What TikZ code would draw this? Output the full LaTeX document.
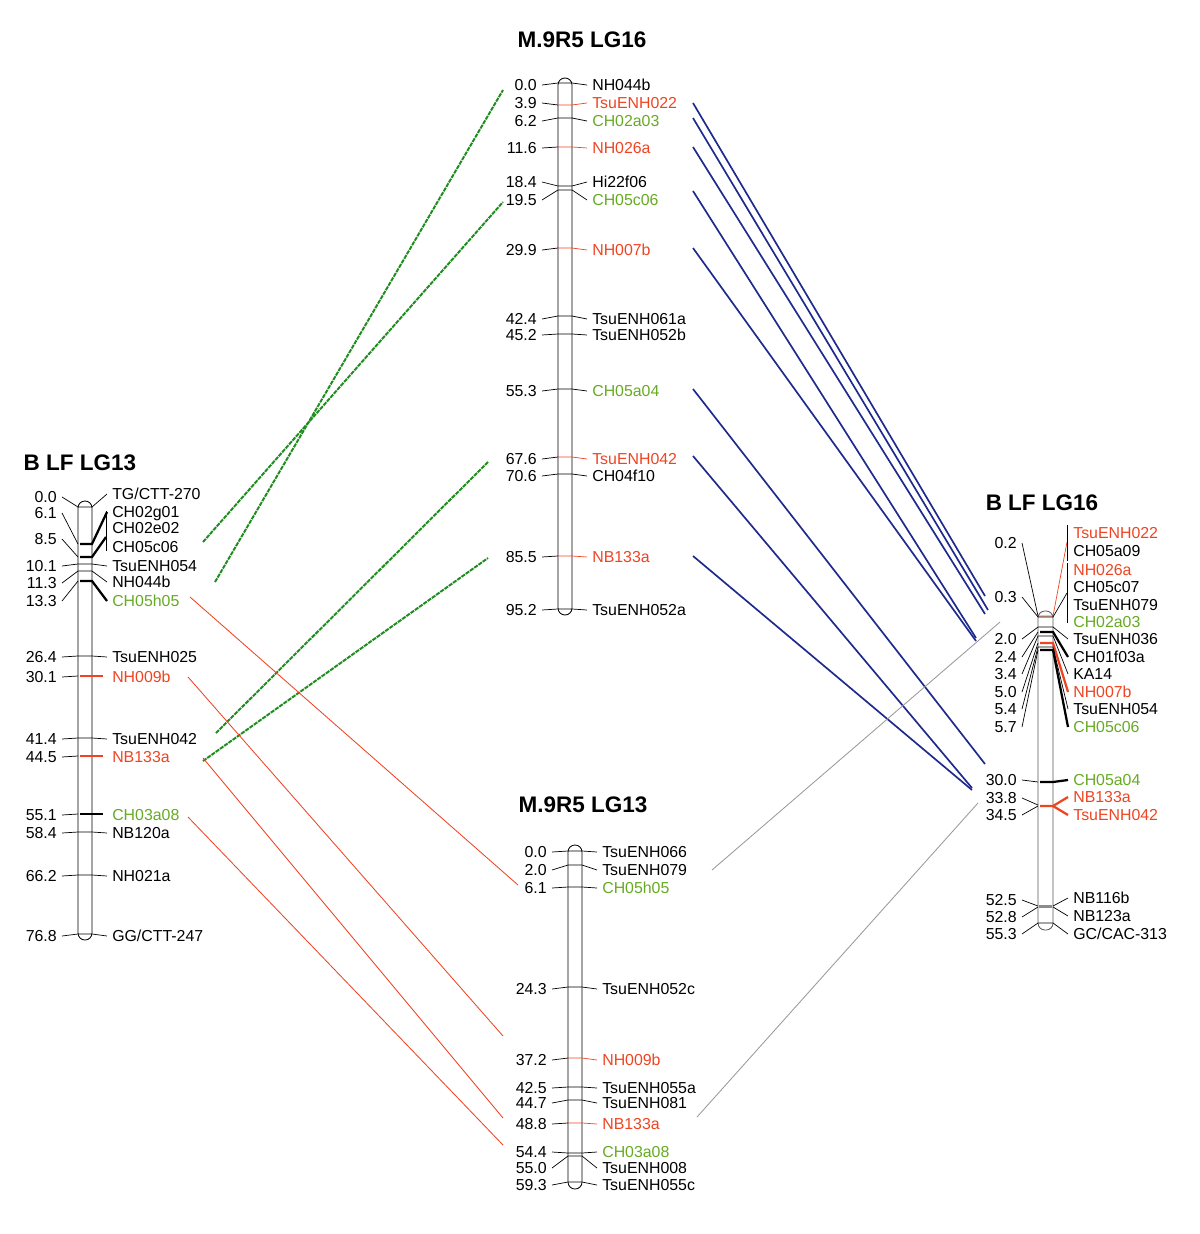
\documentclass[tikz,border=0pt]{standalone}
\usepackage{fontspec}
\setmainfont{Liberation Sans}
\usepackage{tikz}
\usetikzlibrary{positioning}
\definecolor{mRed}{HTML}{EE4422}
\definecolor{mGreen}{HTML}{66AA22}
\definecolor{mLink}{HTML}{1E8C1E}
\definecolor{mBlue}{HTML}{1E2A8C}
\definecolor{mGray}{HTML}{999999}

\begin{document}
\begin{tikzpicture}[x=0.025cm, y=-0.025cm,
  num/.style={font=\fontsize{11.3}{13}\selectfont, anchor=east, inner sep=3.5pt, text height=7.9pt, text depth=0pt},
  lbl/.style={font=\fontsize{11.3}{13}\selectfont, anchor=west, inner sep=3.5pt, text height=7.9pt, text depth=0pt},
  title/.style={font=\fontsize{16}{19}\selectfont\bfseries},
  chrom/.style={draw, line width=0.6pt, rounded corners=4.9pt},
  heavy/.style={line width=1.6pt},
  glink/.style={mLink, line width=1.4pt, dash pattern=on 3pt off 0.7pt},
  rlink/.style={mRed, line width=0.6pt},
  blink/.style={mBlue, line width=1.2pt},
  ylink/.style={mGray, line width=0.6pt},
  every path/.style={line width=0.5pt},
]
  \useasboundingbox (0,0) rectangle (1200,1234);

  % B LF LG13
  \node[title] (tA) at (80,463) {B LF LG13};
  \draw[chrom] (78,501) rectangle (92,940);
  \node[num] (a1) at (62,497) {0.0};
  \node[lbl] (a1n) at (107,494) {TG/CTT-270};
  \draw (a1.east) -- (78,507) -- (92,507) -- (a1n.west);
  \node[num] (a2) at (62,513) {6.1};
  \node[lbl] (a2n) at (107,512) {CH02g01};
  \node[lbl] (a3n) at (107,528) {CH02e02};
  \node[num] (a4) at (62,539) {8.5};
  \node[lbl] (a4n) at (107,547) {CH05c06};
  \draw (a2.east) -- (78,544);
  \draw (a4.east) -- (78,557);
  \draw[heavy] (80,544) -- (92,544) -- (a2n.west);
  \draw[heavy] (80,557) -- (92,557) -- (106,537);
  \draw (106,511) -- (106,551);
  \node[num] (a5) at (62,566) {10.1};
  \node[lbl] (a5n) at (107,566) {TsuENH054};
  \draw (a5.east) -- (78,564) -- (92,564) -- (a5n.west);
  \node[num] (a6) at (62,583) {11.3};
  \node[lbl] (a6n) at (107,582) {NH044b};
  \draw (a6.east) -- (78,571) -- (92,571) -- (a6n.west);
  \node[num] (a7) at (62,601) {13.3};
  \node[lbl, text=mGreen] (a7n) at (107,601) {CH05h05};
  \draw (a7.east) -- (78,581);
  \draw[heavy] (80,581) -- (92,581) -- (a7n.west);
  \node[num] (a8) at (62,657) {26.4};
  \node[lbl] (a8n) at (107,657) {TsuENH025};
  \draw (a8.east) -- (78,656) -- (92,656) -- (a8n.west);
  \node[num] (a9) at (62,677) {30.1};
  \node[lbl, text=mRed] (a9n) at (107,677) {NH009b};
  \draw (a9.east) -- (78,676);
  \draw[heavy, mRed] (80,676) -- (103,676);
  \node[num] (a10) at (62,739) {41.4};
  \node[lbl] (a10n) at (107,739) {TsuENH042};
  \draw (a10.east) -- (78,738) -- (92,738) -- (a10n.west);
  \node[num] (a11) at (62,757) {44.5};
  \node[lbl, text=mRed] (a11n) at (107,757) {NB133a};
  \draw (a11.east) -- (78,756);
  \draw[heavy, mRed] (80,756) -- (103,756);
  \node[num] (a12) at (62,815) {55.1};
  \node[lbl, text=mGreen] (a12n) at (107,815) {CH03a08};
  \draw (a12.east) -- (78,814);
  \draw[heavy] (80,814) -- (103,814);
  \node[num] (a13) at (62,833) {58.4};
  \node[lbl] (a13n) at (107,833) {NB120a};
  \draw (a13.east) -- (78,832) -- (92,832) -- (a13n.west);
  \node[num] (a14) at (62,876) {66.2};
  \node[lbl] (a14n) at (107,876) {NH021a};
  \draw (a14.east) -- (78,875) -- (92,875) -- (a14n.west);
  \node[num] (a15) at (62,936) {76.8};
  \node[lbl] (a15n) at (107,936) {GG/CTT-247};
  \draw (a15.east) -- (78,934) -- (92,934) -- (a15n.west);

  % M.9R5 LG16
  \node[title] (tB) at (582,40) {M.9R5 LG16};
  \draw[chrom] (558,78) rectangle (572,615);
  \node[num] (b1) at (542,85) {0.0};
  \node[lbl] (b1n) at (587,85) {NH044b};
  \draw (b1.east) -- (558,83) -- (572,83) -- (b1n.west);
  \node[num] (b2) at (542,103) {3.9};
  \node[lbl, text=mRed] (b2n) at (587,103) {TsuENH022};
  \draw (b2.east) -- (558,105);
  \draw[mRed] (558,105) -- (572,105) -- (b2n.west);
  \node[num] (b3) at (542,121) {6.2};
  \node[lbl, text=mGreen] (b3n) at (587,121) {CH02a03};
  \draw (b3.east) -- (558,118) -- (572,118) -- (b3n.west);
  \node[num] (b4) at (542,148) {11.6};
  \node[lbl, text=mRed] (b4n) at (587,148) {NH026a};
  \draw (b4.east) -- (558,147);
  \draw[mRed] (558,147) -- (572,147) -- (b4n.west);
  \node[num] (b5) at (542,182) {18.4};
  \node[lbl] (b5n) at (587,182) {Hi22f06};
  \draw (b5.east) -- (558,186) -- (572,186) -- (b5n.west);
  \node[num] (b6) at (542,200) {19.5};
  \node[lbl, text=mGreen] (b6n) at (587,200) {CH05c06};
  \draw (b6.east) -- (558,190) -- (572,190) -- (b6n.west);
  \node[num] (b7) at (542,250) {29.9};
  \node[lbl, text=mRed] (b7n) at (587,250) {NH007b};
  \draw (b7.east) -- (558,248);
  \draw[mRed] (558,248) -- (572,248) -- (b7n.west);
  \node[num] (b8) at (542,319) {42.4};
  \node[lbl] (b8n) at (587,319) {TsuENH061a};
  \draw (b8.east) -- (558,316) -- (572,316) -- (b8n.west);
  \node[num] (b9) at (542,335) {45.2};
  \node[lbl] (b9n) at (587,335) {TsuENH052b};
  \draw (b9.east) -- (558,334) -- (572,334) -- (b9n.west);
  \node[num] (b10) at (542,391) {55.3};
  \node[lbl, text=mGreen] (b10n) at (587,391) {CH05a04};
  \draw (b10.east) -- (558,389) -- (572,389) -- (b10n.west);
  \node[num] (b11) at (542,459) {67.6};
  \node[lbl, text=mRed] (b11n) at (587,459) {TsuENH042};
  \draw (b11.east) -- (558,457);
  \draw[mRed] (558,457) -- (572,457) -- (b11n.west);
  \node[num] (b12) at (542,476) {70.6};
  \node[lbl] (b12n) at (587,476) {CH04f10};
  \draw (b12.east) -- (558,474) -- (572,474) -- (b12n.west);
  \node[num] (b13) at (542,557) {85.5};
  \node[lbl, text=mRed] (b13n) at (587,557) {NB133a};
  \draw (b13.east) -- (558,556);
  \draw[mRed] (558,556) -- (572,556) -- (b13n.west);
  \node[num] (b14) at (542,610) {95.2};
  \node[lbl] (b14n) at (587,610) {TsuENH052a};
  \draw (b14.east) -- (558,609) -- (572,609) -- (b14n.west);

  % M.9R5 LG13
  \node[title] (tC) at (583,805) {M.9R5 LG13};
  \draw[chrom] (568,845) rectangle (582,1189);
  \node[num] (c1) at (552,852) {0.0};
  \node[lbl] (c1n) at (597,852) {TsuENH066};
  \draw (c1.east) -- (568,851) -- (582,851) -- (c1n.west);
  \node[num] (c2) at (552,870) {2.0};
  \node[lbl] (c2n) at (597,870) {TsuENH079};
  \draw (c2.east) -- (568,865) -- (582,865) -- (c2n.west);
  \node[num] (c3) at (552,888) {6.1};
  \node[lbl, text=mGreen] (c3n) at (597,888) {CH05h05};
  \draw (c3.east) -- (568,887) -- (582,887) -- (c3n.west);
  \node[num] (c4) at (552,989) {24.3};
  \node[lbl] (c4n) at (597,989) {TsuENH052c};
  \draw (c4.east) -- (568,987) -- (582,987) -- (c4n.west);
  \node[num] (c5) at (552,1060) {37.2};
  \node[lbl, text=mRed] (c5n) at (597,1060) {NH009b};
  \draw (c5.east) -- (568,1058);
  \draw[mRed] (568,1058) -- (582,1058) -- (c5n.west);
  \node[num] (c6) at (552,1088) {42.5};
  \node[lbl] (c6n) at (597,1088) {TsuENH055a};
  \draw (c6.east) -- (568,1087) -- (582,1087) -- (c6n.west);
  \node[num] (c7) at (552,1103) {44.7};
  \node[lbl] (c7n) at (597,1103) {TsuENH081};
  \draw (c7.east) -- (568,1100) -- (582,1100) -- (c7n.west);
  \node[num] (c8) at (552,1124) {48.8};
  \node[lbl, text=mRed] (c8n) at (597,1124) {NB133a};
  \draw (c8.east) -- (568,1123);
  \draw[mRed] (568,1123) -- (582,1123) -- (c8n.west);
  \node[num] (c9) at (552,1152) {54.4};
  \node[lbl, text=mGreen] (c9n) at (597,1152) {CH03a08};
  \draw (c9.east) -- (568,1153) -- (582,1153) -- (c9n.west);
  \node[num] (c10) at (552,1168) {55.0};
  \node[lbl] (c10n) at (597,1168) {TsuENH008};
  \draw (c10.east) -- (568,1156) -- (582,1156) -- (c10n.west);
  \node[num] (c11) at (552,1185) {59.3};
  \node[lbl] (c11n) at (597,1185) {TsuENH055c};
  \draw (c11.east) -- (568,1182) -- (582,1182) -- (c11n.west);

  % B LF LG16
  \node[title] (tD) at (1042,503) {B LF LG16};
  \draw[chrom, black!65] (1038,611) rectangle (1053,930);
  \node[num] (d1) at (1022,543) {0.2};
  \node[num] (d2) at (1022,597) {0.3};
  \node[num] (d3) at (1022,639) {2.0};
  \node[num] (d4) at (1022,657) {2.4};
  \node[num] (d5) at (1022,674) {3.4};
  \node[num] (d6) at (1022,692) {5.0};
  \node[num] (d7) at (1022,709) {5.4};
  \node[num] (d8) at (1022,727) {5.7};
  \node[num] (d9) at (1022,780) {30.0};
  \node[num] (d10) at (1022,798) {33.8};
  \node[num] (d11) at (1022,815) {34.5};
  \node[num] (d12) at (1022,900) {52.5};
  \node[num] (d13) at (1022,917) {52.8};
  \node[num] (d14) at (1022,934) {55.3};
  \node[lbl, text=mRed] (e1) at (1068,533) {TsuENH022};
  \node[lbl] (e2) at (1068,551) {CH05a09};
  \node[lbl, text=mRed] (e3) at (1068,570) {NH026a};
  \node[lbl] (e4) at (1068,587) {CH05c07};
  \node[lbl] (e5) at (1068,605) {TsuENH079};
  \node[lbl, text=mGreen] (e6) at (1068,622) {CH02a03};
  \node[lbl] (e7) at (1068,639) {TsuENH036};
  \node[lbl] (e8) at (1068,657) {CH01f03a};
  \node[lbl] (e9) at (1068,674) {KA14};
  \node[lbl, text=mRed] (e10) at (1068,692) {NH007b};
  \node[lbl] (e11) at (1068,709) {TsuENH054};
  \node[lbl, text=mGreen] (e12) at (1068,727) {CH05c06};
  \node[lbl, text=mGreen] (e13) at (1068,780) {CH05a04};
  \node[lbl, text=mRed] (e14) at (1068,797) {NB133a};
  \node[lbl, text=mRed] (e15) at (1068,815) {TsuENH042};
  \node[lbl] (e16) at (1068,898) {NB116b};
  \node[lbl] (e17) at (1068,916) {NB123a};
  \node[lbl] (e18) at (1068,934) {GC/CAC-313};
  \draw (d1.east) -- (1038,616);
  \draw[mRed] (1038,616) -- (1053,616) -- (1067,542);
  \draw (1067,525) -- (1067,561);
  \draw (d2.east) -- (1038,617) -- (1053,617) -- (1067,593);
  \draw (1067,563) -- (1067,623);
  \draw (d3.east) -- (1038,627) -- (1053,627) -- (e7.west);
  \draw (d4.east) -- (1038,632);
  \draw[heavy] (1040,632) -- (1053,632) -- (e8.west);
  \draw (d5.east) -- (1038,636) -- (1053,636) -- (e9.west);
  \draw (d6.east) -- (1038,643);
  \draw[heavy, mRed] (1040,643) -- (1053,643) -- (e10.west);
  \draw (d7.east) -- (1038,647) -- (1053,647) -- (e11.west);
  \draw (d8.east) -- (1038,650);
  \draw[heavy] (1040,650) -- (1053,650) -- (e12.west);
  \draw (d9.east) -- (1038,782);
  \draw[heavy] (1040,782) -- (1053,782) -- (e13.west);
  \draw (d10.east) -- (1038,805);
  \draw (d11.east) -- (1038,806);
  \draw[heavy, mRed] (1040,806) -- (1053,806) -- (e14.west);
  \draw[heavy, mRed] (1053,806) -- (e15.west);
  \draw (d12.east) -- (1038,906);
  \draw (d13.east) -- (1038,907);
  \draw[black!45, line width=1.5pt] (1039,906.5) -- (1052,906.5);
  \draw (1053,906) -- (e16.west);
  \draw (1053,907) -- (e17.west);
  \draw (d14.east) -- (1038,923) -- (1053,923) -- (e18.west);

  % link ends
  \coordinate (pa) at (203,542); \coordinate (qa) at (503,202);
  \coordinate (pb) at (215,582); \coordinate (qb) at (503,90);
  \coordinate (pc) at (216,733); \coordinate (qc) at (488,462);
  \coordinate (pd) at (203,761); \coordinate (qd) at (488,558);
  \coordinate (ra) at (190,597); \coordinate (sa) at (518,885);
  \coordinate (rb) at (188,677); \coordinate (sb) at (503,1036);
  \coordinate (rc) at (203,758); \coordinate (sc) at (503,1118);
  \coordinate (rd) at (188,817); \coordinate (sd) at (503,1145);
  \coordinate (ua) at (693,103); \coordinate (va) at (985,596);
  \coordinate (ub) at (693,118); \coordinate (vb) at (988,610);
  \coordinate (uc) at (693,147); \coordinate (vc) at (985,614);
  \coordinate (ud) at (693,191); \coordinate (vd) at (976,638);
  \coordinate (ue) at (693,248); \coordinate (ve) at (976,641);
  \coordinate (uf) at (693,389); \coordinate (vf) at (985,764);
  \coordinate (ug) at (693,456); \coordinate (vg) at (972,788);
  \coordinate (uh) at (693,556); \coordinate (vh) at (972,790);
  \coordinate (wa) at (712,870); \coordinate (za) at (1000,622);
  \coordinate (wb) at (697,1117); \coordinate (zb) at (978,803);

  \draw[glink] (pa) -- (qa);
  \draw[glink] (pb) -- (qb);
  \draw[glink] (pc) -- (qc);
  \draw[glink] (pd) -- (qd);
  \draw[rlink] (ra) -- (sa);
  \draw[rlink] (rb) -- (sb);
  \draw[rlink] (rc) -- (sc);
  \draw[rlink] (rd) -- (sd);
  \draw[blink] (ua) -- (va);
  \draw[blink] (ub) -- (vb);
  \draw[blink] (uc) -- (vc);
  \draw[blink] (ud) -- (vd);
  \draw[blink] (ue) -- (ve);
  \draw[blink] (uf) -- (vf);
  \draw[blink] (ug) -- (vg);
  \draw[blink] (uh) -- (vh);
  \draw[ylink] (wa) -- (za);
  \draw[ylink] (wb) -- (zb);
\end{tikzpicture}
\end{document}
